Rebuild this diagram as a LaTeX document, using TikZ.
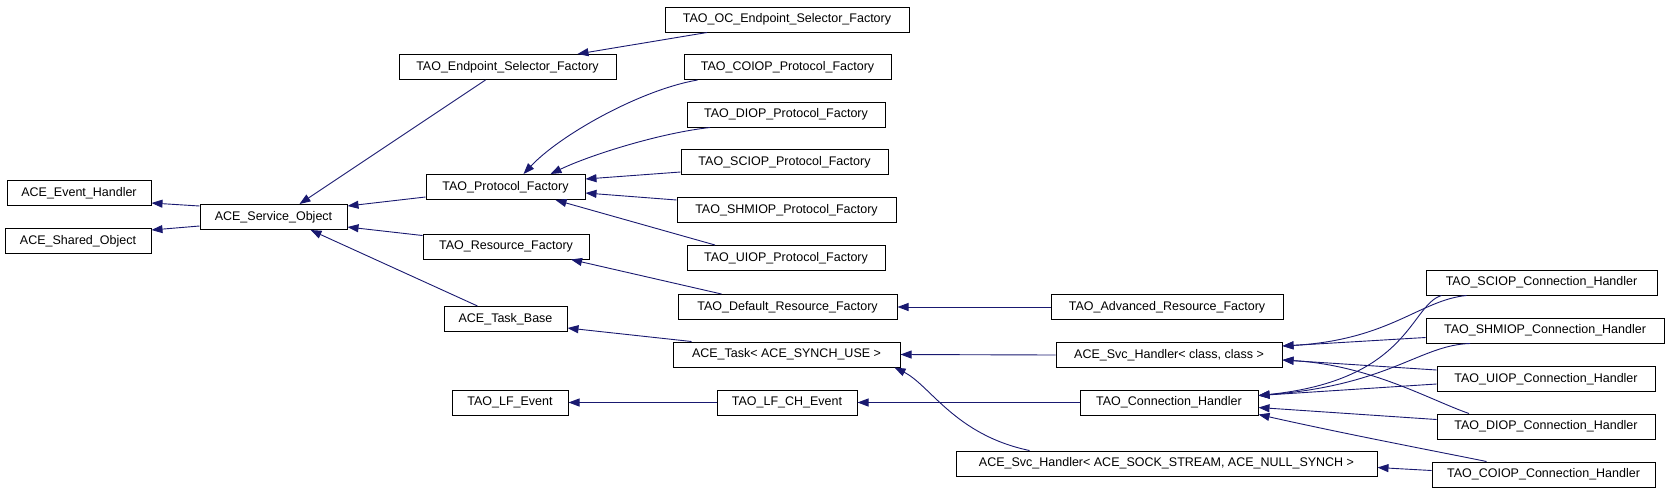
\documentclass[tikz,border=0pt]{standalone}
\usepackage{fontspec}
\setmainfont{Liberation Sans}
\usetikzlibrary{arrows.meta}
\definecolor{edgeblue}{RGB}{25,25,112}
\tikzset{
	cls/.style={draw=black, line width=1pt, fill=white, minimum height=25pt, inner sep=0pt, font=\fontsize{12.5}{14}\selectfont},
	inh/.style={draw=edgeblue, line width=0.9pt, -{Triangle[length=11pt,width=8pt]}, color=edgeblue}
}

\begin{document}
\begin{tikzpicture}[x=1pt, y=-1pt]
			%%%%% START %%%%%
			\useasboundingbox (0, 0) rectangle (1669, 491);
			
			\node[cls, minimum width=144] (aeh) at (79, 193) {ACE\_Event\_Handler};
			\node[cls, minimum width=146] (asho) at (78, 241) {ACE\_Shared\_Object};
			\node[cls, minimum width=147] (aso) at (273.5, 217) {ACE\_Service\_Object};
			
			\node[cls, minimum width=217] (esf) at (507.5, 67) {TAO\_Endpoint\_Selector\_Factory};
			\node[cls, minimum width=159] (pf) at (505.5, 187) {TAO\_Protocol\_Factory};
			\node[cls, minimum width=166] (rf) at (506, 246.5) {TAO\_Resource\_Factory};
			\node[cls, minimum width=123] (atb) at (505.5, 319) {ACE\_Task\_Base};
			\node[cls, minimum width=116] (lfe) at (510, 402.5) {TAO\_LF\_Event};
			
			\node[cls, minimum width=244] (oc) at (787, 19.5) {TAO\_OC\_Endpoint\_Selector\_Factory};
			\node[cls, minimum width=207] (coiopf) at (787.5, 67) {TAO\_COIOP\_Protocol\_Factory};
			\node[cls, minimum width=198] (diopf) at (786, 114.5) {TAO\_DIOP\_Protocol\_Factory};
			\node[cls, minimum width=207] (sciopf) at (784.5, 162) {TAO\_SCIOP\_Protocol\_Factory};
			\node[cls, minimum width=219] (shmiopf) at (786.5, 210) {TAO\_SHMIOP\_Protocol\_Factory};
			\node[cls, minimum width=198] (uiopf) at (786, 258) {TAO\_UIOP\_Protocol\_Factory};
			\node[cls, minimum width=219] (drf) at (787.5, 307) {TAO\_Default\_Resource\_Factory};
			\node[cls, minimum width=227] (task) at (786.5, 354.5) {ACE\_Task< ACE\_SYNCH\_USE >};
			\node[cls, minimum width=140] (lfch) at (787, 402.5) {TAO\_LF\_CH\_Event};
			
			\node[cls, minimum width=232] (arf) at (1167, 307) {TAO\_Advanced\_Resource\_Factory};
			\node[cls, minimum width=226] (ash) at (1169, 355) {ACE\_Svc\_Handler< class, class >};
			\node[cls, minimum width=178] (tch) at (1169, 402.5) {TAO\_Connection\_Handler};
			\node[cls, minimum width=421] (ashs) at (1166.5, 463.5) {ACE\_Svc\_Handler< ACE\_SOCK\_STREAM, ACE\_NULL\_SYNCH >};
			
			\node[cls, minimum width=231] (sciopch) at (1541.5, 282.5) {TAO\_SCIOP\_Connection\_Handler};
			\node[cls, minimum width=238] (shmiopch) at (1545, 330.5) {TAO\_SHMIOP\_Connection\_Handler};
			\node[cls, minimum width=218] (uiopch) at (1546, 379) {TAO\_UIOP\_Connection\_Handler};
			\node[cls, minimum width=218] (diopch) at (1546, 426.5) {TAO\_DIOP\_Connection\_Handler};
			\node[cls, minimum width=223] (coiopch) at (1543.5, 474.5) {TAO\_COIOP\_Connection\_Handler};
			
			% left part
			\draw[inh] ([yshift=11pt]aso.west) -- ([yshift=-10pt]aeh.east);
			\draw[inh] ([yshift=-9pt]aso.west) -- ([yshift=11pt]asho.east);
			\draw[inh] ([xshift=-22pt]esf.south) -- ([xshift=26pt]aso.north);
			\draw[inh] ([yshift=-10pt]pf.west) -- ([yshift=11pt]aso.east);
			\draw[inh] ([yshift=11pt]rf.west) -- ([yshift=-10pt]aso.east);
			\draw[inh] ([xshift=-28pt]atb.north) -- ([xshift=37pt]aso.south);
			
			% factories
			\draw[inh] ([xshift=-80pt]oc.south) -- ([xshift=70pt]esf.north);
			\draw[inh] ([xshift=-90pt]coiopf.south) .. controls (640, 90) and (560, 135) .. ([xshift=18pt]pf.north);
			\draw[inh] ([xshift=-76pt]diopf.south) .. controls (660, 133) and (590, 155) .. ([xshift=45pt]pf.north);
			\draw[inh] ([yshift=-10pt]sciopf.west) -- ([yshift=8pt]pf.east);
			\draw[inh] ([yshift=10pt]shmiopf.west) -- ([yshift=-6pt]pf.east);
			\draw[inh] ([xshift=-71pt]uiopf.north) -- ([xshift=50pt]pf.south);
			\draw[inh] ([xshift=-66pt]drf.north) -- ([xshift=65pt]rf.south);
			\draw[inh] (arf.west) -- (drf.east);
			
			% tasks and events
			\draw[inh] ([xshift=-95pt]task.north) -- ([yshift=-9pt]atb.east);
			\draw[inh] (ash.west) -- (task.east);
			\draw[inh] ([xshift=-137pt]ashs.north) .. controls (955, 435) and (930, 385) .. ([xshift=108pt]task.south);
			\draw[inh] (lfch.west) -- (lfe.east);
			\draw[inh] (tch.west) -- (lfch.east);
			
			% connection handlers
			\draw[inh] ([xshift=-75pt]sciopch.south) .. controls (1420, 300) and (1390, 340) .. ([yshift=9pt]ash.east);
			\draw[inh] ([xshift=-100pt]sciopch.south) .. controls (1410, 305) and (1410, 380) .. ([yshift=7pt]tch.east);
			\draw[inh] ([yshift=-7pt]shmiopch.west) -- ([yshift=9pt]ash.east);
			\draw[inh] ([xshift=-75pt]shmiopch.south) .. controls (1420, 345) and (1390, 385) .. ([yshift=7pt]tch.east);
			\draw[inh] ([yshift=9pt]uiopch.west) -- ([yshift=-5pt]ash.east);
			\draw[inh] ([yshift=-5pt]uiopch.west) -- ([yshift=7pt]tch.east);
			\draw[inh] ([xshift=-77pt]diopch.north) .. controls (1430, 400) and (1370, 365) .. ([yshift=-5pt]ash.east);
			\draw[inh] ([yshift=7pt]diopch.west) -- ([yshift=-5pt]tch.east);
			\draw[inh] ([xshift=-57pt]coiopch.north) .. controls (1440, 452) and (1350, 435) .. ([yshift=-12pt]tch.east);
			\draw[inh] ([yshift=4pt]coiopch.west) -- ([yshift=-4pt]ashs.east);
			
			%%%%% END %%%%%
\end{tikzpicture}
\end{document}
